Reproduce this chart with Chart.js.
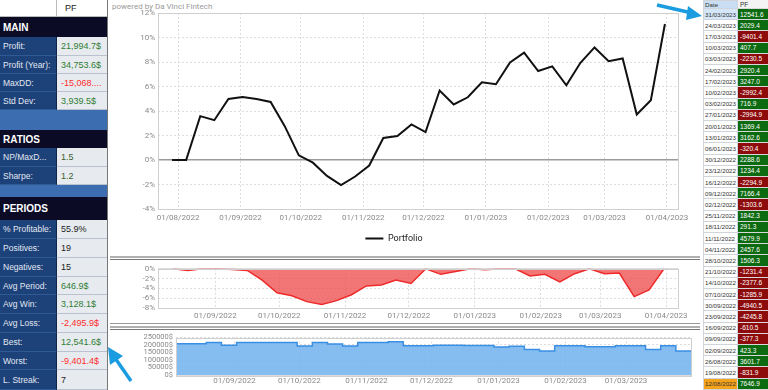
<!DOCTYPE html>
<html>
<head>
<meta charset="utf-8">
<script src="https://cdn.jsdelivr.net/npm/chart.js@4.4.0/dist/chart.umd.min.js"></script>
<style>
  body { margin: 0; width: 768px; height: 390px; overflow: hidden; background: #fff; font-family: "Liberation Sans", Arial, sans-serif; position: relative; }
  #left { position: absolute; left: 0; top: 0; width: 108px; height: 390px; background: #3b6db0; border-right: 1px solid #777; box-sizing: border-box; }
  .row { position: absolute; left: 0; width: 107px; display: flex; box-sizing: border-box; }
  .lab { width: 57px; background: #1d4179; color: #e2e8f2; font-size: 8.5px; padding-left: 3px; box-sizing: border-box; display: flex; align-items: center; border-bottom: 1px solid #2f5a94; border-right: 1px solid #0e2548; white-space: nowrap; overflow: hidden; }
  .val { flex: 1; background: #e7ebf0; font-size: 9px; padding-left: 4px; display: flex; align-items: center; border-bottom: 1px solid #b9c2ce; white-space: nowrap; overflow: hidden; }
  .sec { width: 107px; background: #0b0b26; color: #fff; font-weight: bold; font-size: 10px; padding-left: 3px; display: flex; align-items: center; box-sizing: border-box; }
  .g { color: #2f7d32; } .r { color: #ff2b2b; } .k { color: #222; } .dg { color: #3b5f2c; }
  #right { position: absolute; left: 703px; top: 0; width: 65px; height: 390px; font-size: 6.5px; }
  .rr { position: absolute; left: 0; width: 65px; display: flex; box-sizing: border-box; }
  .rd { width: 35px; border: 1px solid #cfd4da; border-top: none; padding-left: 1px; color: #333; box-sizing: border-box; display: flex; align-items: center; background: #fff; white-space: nowrap; overflow: hidden; font-size: 6.2px; }
  .rp { flex: 1; padding-left: 2px; color: #fff; display: flex; align-items: center; border-bottom: 1px solid #d8d8d8; white-space: nowrap; overflow: hidden; }
  .sep { position: absolute; left: 110px; width: 590px; }
  canvas { position: absolute; }
  #powered { position: absolute; left: 112px; top: 2px; font-size: 8px; color: #9a9a9a; font-family: Roboto, sans-serif; }
</style>
</head>
<body>
<div id="left">
  <div class="row" style="top:0;height:17px"><div class="lab" style="background:#fff;border-right:1px solid #bbb;border-bottom:1px solid #bbb"></div><div class="val" style="background:#fff;padding-left:8px;font-size:9px;border-bottom:1px solid #bbb;color:#222">PF</div></div>
  <div class="row" style="top:17px;height:20px"><div class="sec">MAIN</div></div>
  <div class="row" style="top:37px;height:19px"><div class="lab">Profit:</div><div class="val g">21,994.7$</div></div>
  <div class="row" style="top:56px;height:18px"><div class="lab">Profit (Year):</div><div class="val g">34,753.6$</div></div>
  <div class="row" style="top:74px;height:18px"><div class="lab">MaxDD:</div><div class="val r">-15,068....</div></div>
  <div class="row" style="top:92px;height:18px"><div class="lab">Std Dev:</div><div class="val g">3,939.5$</div></div>
  <div class="row" style="top:130px;height:18px"><div class="sec">RATIOS</div></div>
  <div class="row" style="top:148px;height:19px"><div class="lab">NP/MaxD...</div><div class="val dg">1.5</div></div>
  <div class="row" style="top:167px;height:18px"><div class="lab">Sharpe:</div><div class="val dg">1.2</div></div>
  <div class="row" style="top:197px;height:23px"><div class="sec">PERIODS</div></div>
  <div class="row" style="top:220px;height:19px"><div class="lab">% Profitable:</div><div class="val k">55.9%</div></div>
  <div class="row" style="top:239px;height:19px"><div class="lab">Positives:</div><div class="val k">19</div></div>
  <div class="row" style="top:258px;height:19px"><div class="lab">Negatives:</div><div class="val k">15</div></div>
  <div class="row" style="top:277px;height:18px"><div class="lab">Avg Period:</div><div class="val g">646.9$</div></div>
  <div class="row" style="top:295px;height:19px"><div class="lab">Avg Win:</div><div class="val g">3,128.1$</div></div>
  <div class="row" style="top:314px;height:19px"><div class="lab">Avg Loss:</div><div class="val r">-2,495.9$</div></div>
  <div class="row" style="top:333px;height:19px"><div class="lab">Best:</div><div class="val g">12,541.6$</div></div>
  <div class="row" style="top:352px;height:18px"><div class="lab">Worst:</div><div class="val r">-9,401.4$</div></div>
  <div class="row" style="top:370px;height:20px"><div class="lab">L. Streak:</div><div class="val k">7</div></div>
</div>

<div id="powered">powered by Da Vinci Fintech</div>
<canvas id="main" width="590" height="255" style="left:110px;top:0"></canvas>
<div class="sep" style="top:256px;height:2px;background:#b0b0b0"></div>
<div class="sep" style="top:259px;height:1px;background:#777"></div>
<canvas id="dd" width="590" height="61" style="left:110px;top:261px"></canvas>
<div class="sep" style="top:323px;height:1px;background:#999"></div>
<div class="sep" style="top:326px;height:2px;background:#b0b0b0"></div>
<div class="sep" style="top:329px;height:1px;background:#777"></div>
<canvas id="cap" width="590" height="60" style="left:110px;top:330px"></canvas>

<div id="right"></div>

<svg width="768" height="390" style="position:absolute;left:0;top:0;pointer-events:none">
  <line x1="657" y1="5" x2="692" y2="13" stroke="#1b9be0" stroke-width="3.5"/>
  <polygon points="702,16 688,6 686,20" fill="#1b9be0"/>
  <line x1="131" y1="381" x2="115" y2="358" stroke="#1b9be0" stroke-width="3.5"/>
  <polygon points="108,347 110,365 123,356" fill="#1b9be0"/>
</svg>

<script>
// weekly dates of the equity curve
const weekDates = ["29/07/2022","05/08/2022","12/08/2022","19/08/2022","26/08/2022","02/09/2022","09/09/2022","16/09/2022","23/09/2022","30/09/2022","07/10/2022","14/10/2022","21/10/2022","28/10/2022","04/11/2022","11/11/2022","18/11/2022","25/11/2022","02/12/2022","09/12/2022","16/12/2022","23/12/2022","30/12/2022","06/01/2023","13/01/2023","20/01/2023","27/01/2023","03/02/2023","10/02/2023","17/02/2023","24/02/2023","03/03/2023","10/03/2023","17/03/2023","24/03/2023","31/03/2023"];
const portfolioPct = [0, 0, 3.58, 3.25, 4.98, 5.15, 4.98, 4.74, 2.76, 0.38, -0.22, -1.3, -2.05, -1.35, -0.45, 1.8, 1.95, 2.9, 2.28, 5.67, 4.53, 5.12, 6.34, 6.18, 7.97, 8.76, 7.26, 7.64, 6.1, 7.94, 9.19, 8.07, 8.29, 3.72, 4.88, 11.1];

// drawdown from 12/08/2022
const drawdownDates = weekDates.slice(2);
const drawdownPct = [0, -0.33, 0, 0, -0.13, -0.33, -2.3, -4.9, -5.5, -6.7, -7.3, -6.5, -5.3, -3.5, -3.3, -2.3, -3.0, 0, -1.13, -0.53, 0, -0.2, 0, 0, -1.47, -1.13, -2.67, -1.0, 0, -1.0, -0.87, -5.67, -4.33, 0];

// capital used from 05/08/2022
const capitalDates = weekDates.slice(1);
const capitalValues = [208000, 208000, 216000, 198000, 216000, 216000, 216000, 216000, 194000, 216000, 207000, 194000, 216000, 216000, 222000, 195000, 195000, 199000, 199000, 196000, 196000, 186000, 192000, 170000, 160000, 195000, 195000, 189000, 189000, 195000, 195000, 170000, 195000, 160000, 160000];

const monthTicks = ["01/08/2022","01/09/2022","01/10/2022","01/11/2022","01/12/2022","01/01/2023","01/02/2023","01/03/2023","01/04/2023"];

// weekly results table
const tableDates = ["31/03/2023","24/03/2023","17/03/2023","10/03/2023","03/03/2023","24/02/2023","17/02/2023","10/02/2023","03/02/2023","27/01/2023","20/01/2023","13/01/2023","06/01/2023","30/12/2022","23/12/2022","16/12/2022","09/12/2022","02/12/2022","25/11/2022","18/11/2022","11/11/2022","04/11/2022","28/10/2022","21/10/2022","14/10/2022","07/10/2022","30/09/2022","23/09/2022","16/09/2022","09/09/2022","02/09/2022","26/08/2022","19/08/2022","12/08/2022"];
const tablePF = [12541.6, 2029.4, -9401.4, 407.7, -2230.5, 2920.4, 3247.0, -2992.4, 716.9, -2994.9, 1369.4, 3162.6, -320.4, 2288.6, 1234.4, -2294.9, 7166.4, -1303.6, 1842.3, 291.3, 4579.9, 2457.6, 1506.3, -1231.4, -2377.6, -1285.9, -4940.5, -4245.8, -610.5, -377.3, 423.3, 3601.7, -831.9, 7646.9];

const DAY = 86400000;
const toDay = s => { const p = s.split("/"); return Date.UTC(+p[2], +p[1] - 1, +p[0]) / DAY; };
const pad = n => String(n).padStart(2, "0");
const fmtDay = v => { const d = new Date(Math.round(v) * DAY); return pad(d.getUTCDate()) + "/" + pad(d.getUTCMonth() + 1) + "/" + d.getUTCFullYear(); };

// right hand table
const right = document.getElementById("right");
let html = '<div class="rr" style="top:0;height:9px"><div class="rd" style="background:#c9def2;border-top:1px solid #cfd4da">Date</div><div class="rp" style="color:#333;background:#f4f4f4">PF</div></div>';
tableDates.forEach((d, i) => {
  const v = tablePF[i];
  let dateBg = "#fff";
  if (i === 0) dateBg = "#d4e6f7";
  if (i === tableDates.length - 1) dateBg = "#f5a21b";
  html += `<div class="rr" style="top:${9 + i * 11.2}px;height:11.2px"><div class="rd" style="background:${dateBg}">${d}</div><div class="rp" style="background:${v >= 0 ? "#0c6a10" : "#8e0b0b"}">${v.toFixed(1)}</div></div>`;
});
right.innerHTML = html;

/* frame round the plot area */
const frame = {
  id: "frame",
  afterDraw(chart) {
    const a = chart.chartArea, ctx = chart.ctx;
    ctx.save();
    ctx.strokeStyle = "#cfcfcf";
    ctx.lineWidth = 1;
    ctx.strokeRect(Math.round(a.left) + 0.5, Math.round(a.top) + 0.5, Math.round(a.right - a.left), Math.round(a.bottom - a.top));
    ctx.restore();
  }
};

const tickFont = { size: 8, family: "Roboto, sans-serif" };

const timeAxis = (min, max, height, padding) => ({
  type: "linear",
  min: min,
  max: max,
  afterBuildTicks: s => {
    s.ticks = monthTicks.map(toDay).filter(v => v >= s.min && v <= s.max).map(v => ({ value: v }));
  },
  afterFit: s => { s.height = height; },
  ticks: { callback: v => fmtDay(v), autoSkip: false, maxRotation: 0, color: "#8a8a8a", font: tickFont, padding: padding },
  grid: { color: "#dcdcdc", drawTicks: false },
  border: { display: false, dash: [2, 2] }
});

const valueAxis = (min, max, step, suffix, width, size) => ({
  min: min,
  max: max,
  afterFit: s => { s.width = width; },
  ticks: { stepSize: step, autoSkip: false, callback: v => v + suffix, color: "#8a8a8a", font: { size: size, family: "Roboto, sans-serif" }, padding: 3 },
  grid: {
    color: c => (c.tick && c.tick.value === 0 && min < 0 && max > 0) ? "#9a9a9a" : "#dcdcdc",
    lineWidth: c => (c.tick && c.tick.value === 0 && min < 0 && max > 0) ? 1.5 : 1,
    drawTicks: false
  },
  border: { display: false, dash: c => (c.tick && c.tick.value === 0) ? [] : [2, 2] }
});

// main equity chart
new Chart(document.getElementById("main"), {
  type: "line",
  data: {
    datasets: [{
      label: "Portfolio",
      data: weekDates.map((d, i) => ({ x: toDay(d), y: portfolioPct[i] })),
      borderColor: "#111",
      backgroundColor: "#111",
      borderWidth: 2,
      pointRadius: 0,
      tension: 0
    }]
  },
  options: {
    responsive: false,
    animation: false,
    layout: { padding: { top: 13, right: 22, left: 0, bottom: 2 } },
    scales: {
      x: timeAxis(toDay("22/07/2022"), toDay("06/04/2023") + 0.5, 17, 4),
      y: valueAxis(-4, 12, 2, "%", 48, 8)
    },
    plugins: {
      legend: {
        position: "bottom",
        labels: { usePointStyle: true, pointStyle: "line", pointStyleWidth: 18, color: "#222", font: { size: 9, family: "Roboto, sans-serif" }, padding: 8 }
      },
      tooltip: { enabled: false }
    }
  },
  plugins: [frame]
});

// drawdown chart
new Chart(document.getElementById("dd"), {
  type: "line",
  data: {
    datasets: [{
      data: drawdownDates.map((d, i) => ({ x: toDay(d), y: drawdownPct[i] })),
      borderColor: "#ee2a2a",
      backgroundColor: "rgba(240, 80, 80, 0.78)",
      borderWidth: 1.5,
      pointRadius: 0,
      fill: "origin",
      tension: 0
    }]
  },
  options: {
    responsive: false,
    animation: false,
    layout: { padding: { top: 7, right: 22, left: 0, bottom: 0 } },
    scales: {
      x: timeAxis(toDay("05/08/2022"), toDay("06/04/2023") + 0.6, 14, 3),
      y: valueAxis(-8, 0, 2, "%", 48, 8)
    },
    plugins: { legend: { display: false }, tooltip: { enabled: false } }
  },
  plugins: [frame]
});

// capital chart
new Chart(document.getElementById("cap"), {
  type: "line",
  data: {
    datasets: [{
      data: capitalDates.map((d, i) => ({ x: toDay(d), y: capitalValues[i] })),
      borderColor: "#3a8fe3",
      backgroundColor: "rgba(120, 182, 240, 0.9)",
      borderWidth: 1.5,
      pointRadius: 0,
      stepped: true,
      fill: "origin"
    }]
  },
  options: {
    responsive: false,
    animation: false,
    layout: { padding: { top: 6, right: 9, left: 0, bottom: 0 } },
    scales: {
      x: timeAxis(toDay("05/08/2022"), toDay("31/03/2023"), 15, 1),
      y: valueAxis(0, 250000, 50000, "$", 66, 7.5)
    },
    plugins: { legend: { display: false }, tooltip: { enabled: false } }
  },
  plugins: [frame]
});
</script>
</body>
</html>
